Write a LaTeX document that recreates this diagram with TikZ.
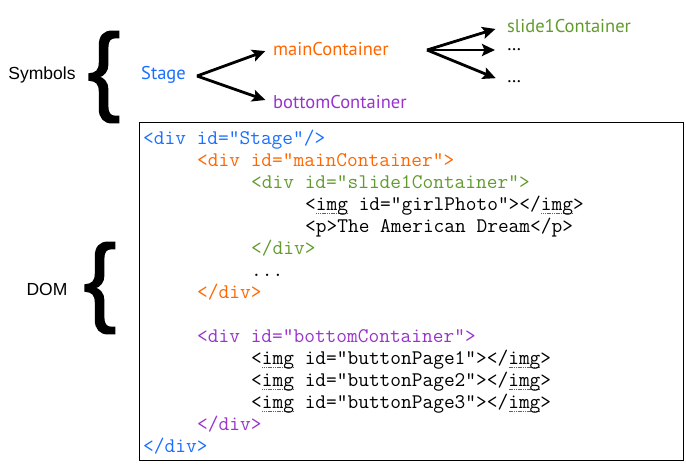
\documentclass[tikz,border=0pt]{standalone}
\usepackage{fontspec}
\setmainfont{Liberation Sans}
\newfontfamily\lblfont{PT Sans}
\newfontfamily\bracefont[FakeBold=1.6]{Liberation Sans}
\usetikzlibrary{arrows.meta}
\definecolor{cblue}{RGB}{26,110,255}
\definecolor{corange}{RGB}{255,102,0}
\definecolor{cgreen}{RGB}{98,155,45}
\definecolor{cpurple}{RGB}{153,51,204}
\definecolor{squigred}{RGB}{255,30,30}
\newcommand\sqd{\hbox to 1.8pt{\hss\vrule width 1.1pt height 1.1pt depth 0pt\hss}}
\newcommand\sqdsix{\sqd\sqd\sqd\sqd\sqd\sqd}
\newcommand\squig[1]{\rlap{\raisebox{-4pt}{\color{squigred}\sqdsix\sqdsix\sqdsix}}#1}
\tikzset{
  lbl/.style={font=\lblfont\fontsize{18.5}{20}\selectfont, inner sep=2pt, anchor=west},
  side/.style={font=\fontsize{17.5}{20}\selectfont, inner sep=0pt},
  brace/.style={font=\bracefont\fontsize{98}{98}\selectfont, inner sep=0pt},
  code/.style={font=\ttfamily\fontsize{20.8}{22}\selectfont, inner sep=0pt, anchor=base west},
  arr/.style={line width=2.8pt, -{Stealth[length=13pt,width=12pt,inset=2.5pt]}, shorten >=6pt},
}
\begin{document}
\begin{tikzpicture}[x=1pt,y=-1pt]
\useasboundingbox (0,0) rectangle (686,467);
% symbols part
\node[side] (symbols) at (42,75) {Symbols};
\node[brace] (brace1) at (104,77) {\{};
\node[lbl, text=cblue] (stage) at (139,75) {Stage};
\node[lbl, text=corange] (main) at (271,49) {mainContainer};
\node[lbl, text=cpurple] (bottom) at (271,102) {bottomContainer};
\node[lbl, text=cgreen] (slide) at (505,26) {slide1Container};
\node[lbl] (dots1) at (505,50) {…};
\node[lbl] (dots2) at (505,82) {…};
\coordinate (fa) at (197,76);
\coordinate (fb) at (427,50);
\draw[arr] (fa) -- (main.west);
\draw[arr] (fa) -- (bottom.west);
\draw[arr, shorten >=10pt] (fb) -- (slide.west);
\draw[arr, shorten >=10pt] (fb) -- (dots1.west);
\draw[arr, shorten >=10pt] (fb) -- (dots2.west);
% DOM part
\node[side] (domlbl) at (47,289) {DOM};
\node[brace] (brace2) at (100,288) {\{};
\node[draw, line width=1.4pt, minimum width=544pt, minimum height=338pt, anchor=north west, inner sep=0pt] (box) at (139,122) {};
\node[code, text=cblue] (l0) at (143,144) {<div id=”Stage”/>};
\node[code, text=corange] (l1) at (197,166) {<div id=”mainContainer”>};
\node[code, text=cgreen] (l2) at (251,188) {<div id=”slide1Container”>};
\node[code] (l3) at (305,210) {<\squig{img} id=”girlPhoto”></\squig{img}>};
\node[code] (l4) at (305,232) {<p>The American Dream</p>};
\node[code, text=cgreen] (l5) at (251,254) {</div>};
\node[code] (l6) at (251,276) {...};
\node[code, text=corange] (l7) at (197,298) {</div>};
\node[code, text=cpurple] (l9) at (197,342) {<div id=”bottomContainer”>};
\node[code] (l10) at (251,364) {<\squig{img} id=”buttonPage1”></\squig{img}>};
\node[code] (l11) at (251,386) {<\squig{img} id=”buttonPage2”></\squig{img}>};
\node[code] (l12) at (251,408) {<\squig{img} id=”buttonPage3”></\squig{img}>};
\node[code, text=cpurple] (l13) at (197,430) {</div>};
\node[code, text=cblue] (l14) at (143,452) {</div>};
\end{tikzpicture}
\end{document}
